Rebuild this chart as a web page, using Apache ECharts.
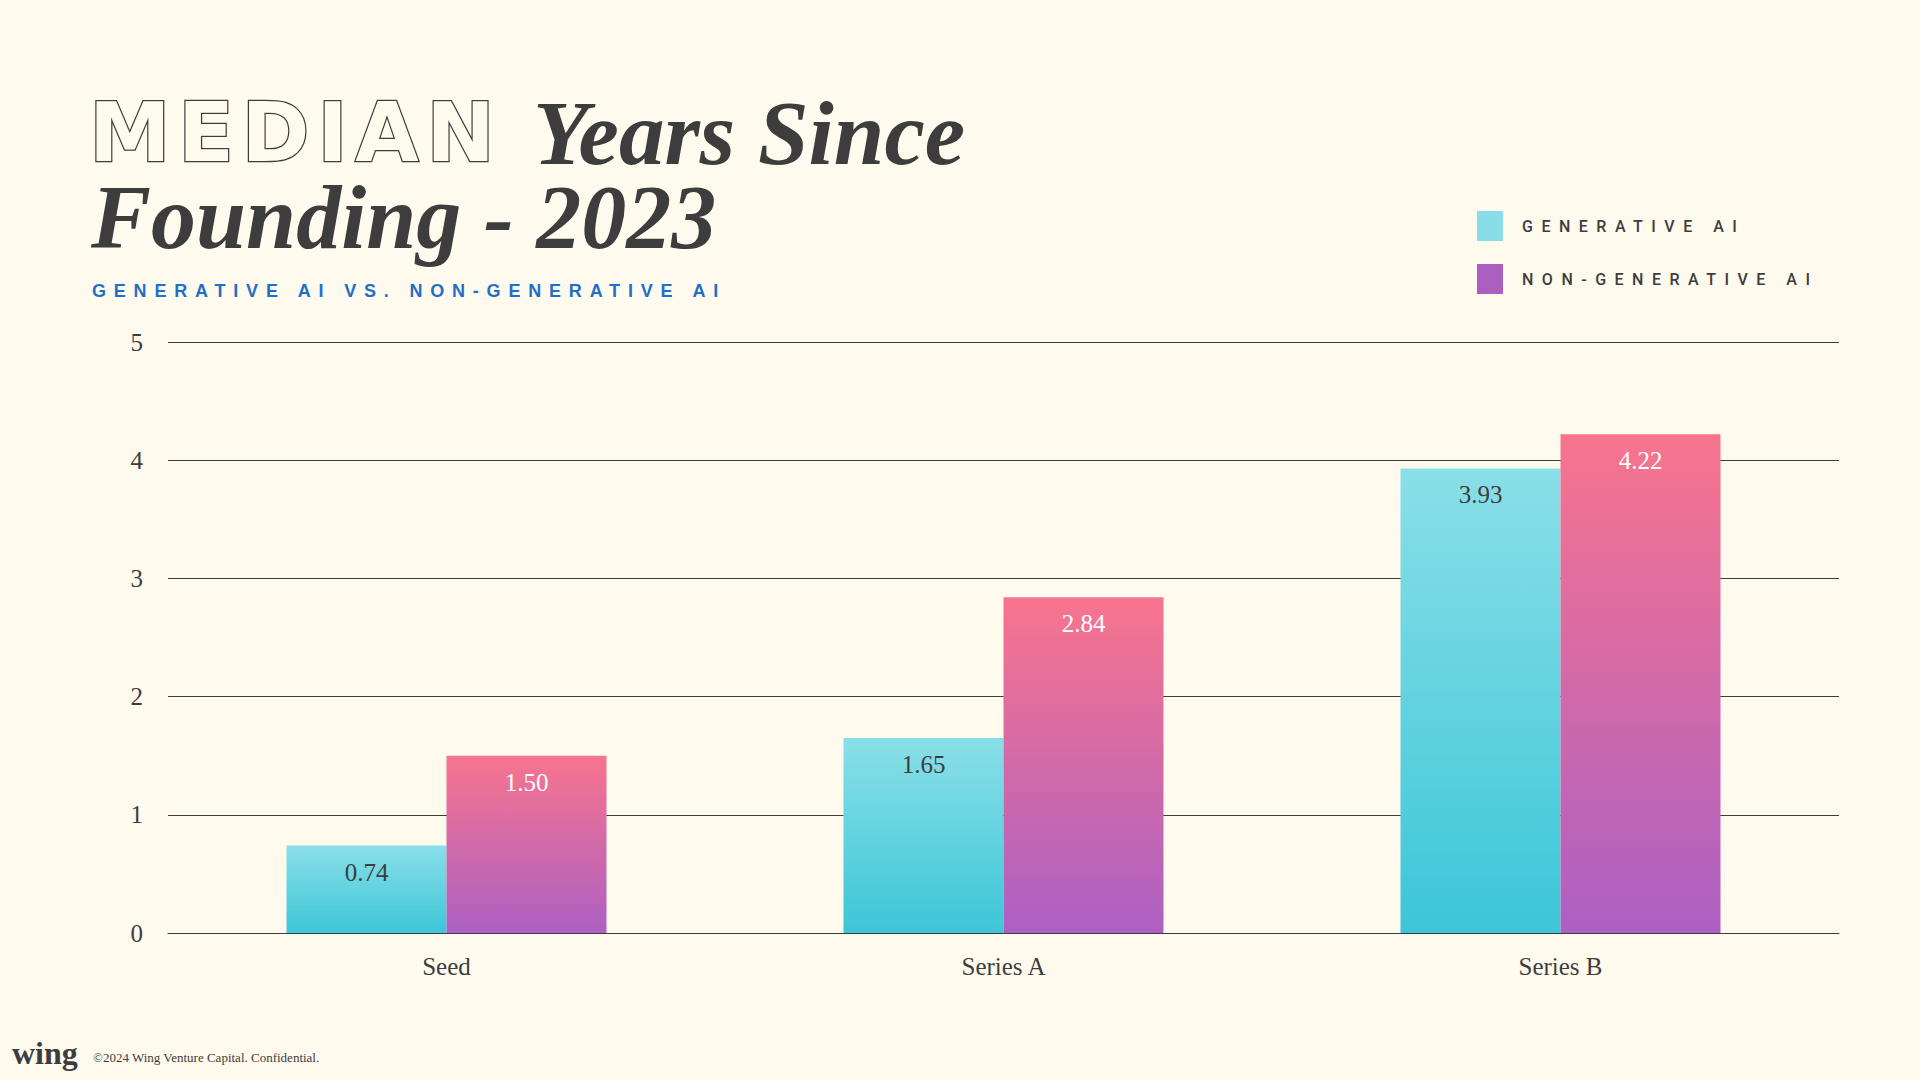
<!DOCTYPE html>
<html>
<head>
<meta charset="utf-8">
<script src="https://cdn.jsdelivr.net/npm/echarts@6/dist/echarts.min.js"></script>
<style>
    html, body { margin: 0; padding: 0; background: #fffaee; }
    #main { width: 1920px; height: 1080px; }
    /* spaced-out caps, zrender has no letterSpacing so we do it on the svg text */
    #main text[style*="DejaVu Sans"] { letter-spacing: 7.5px; }
    #main text[style*="Liberation Sans"] { letter-spacing: 7.8px; }
    #main text[style*="Roboto"] { letter-spacing: 8.5px; }
</style>
</head>
<body>
<div id="main"></div>
<script>
var categories = ['Seed', 'Series A', 'Series B'];
var generativeAI = [0.74, 1.65, 3.93];
var nonGenerativeAI = [1.50, 2.84, 4.22];
var seriesNames = ['GENERATIVE AI', 'NON-GENERATIVE AI'];

var dark = '#3d3d3d';
var bg = '#fffaee';
var serif = 'Liberation Serif';

var myChart = echarts.init(document.getElementById('main'), null, {renderer: 'svg'});

function grad(top, bottom) {
    return new echarts.graphic.LinearGradient(0, 0, 0, 1, [
        {offset: 0, color: top},
        {offset: 1, color: bottom}
    ]);
}

function fmt(p) {
    return p.value.toFixed(2);
}

myChart.setOption({
    backgroundColor: bg,
    animation: false,
    graphic: [
        {type: 'text', x: 89, y: 132, style: {
            text: 'MEDIAN', fontFamily: 'DejaVu Sans', fontSize: 82, fontWeight: 'bold',
            lineHeight: 74, fill: bg, stroke: dark, lineWidth: 2.5, verticalAlign: 'middle'}},
        {type: 'text', x: 533, y: 133, style: {
            text: 'Years Since', fontFamily: serif, fontSize: 91, lineHeight: 74,
            fontWeight: 'bold', fontStyle: 'italic', fill: dark, verticalAlign: 'middle'}},
        {type: 'text', x: 91, y: 217, style: {
            text: 'Founding - 2023', fontFamily: serif, fontSize: 90, lineHeight: 74,
            fontWeight: 'bold', fontStyle: 'italic', fill: dark, verticalAlign: 'middle'}},
        {type: 'text', x: 92, y: 291, style: {
            text: 'GENERATIVE AI VS. NON-GENERATIVE AI', fontFamily: 'Liberation Sans',
            fontSize: 18, fontWeight: 'bold', fill: '#1f6fc8', verticalAlign: 'middle'}},
        {type: 'text', x: 12, y: 1053, style: {
            text: 'wing', fontFamily: serif, fontSize: 32, fontWeight: 'bold',
            fill: dark, verticalAlign: 'middle'}},
        {type: 'text', x: 93, y: 1057, style: {
            text: '©2024 Wing Venture Capital. Confidential.', fontFamily: serif,
            fontSize: 13, fill: dark, verticalAlign: 'middle'}}
    ],
    legend: {
        orient: 'vertical',
        left: 1477,
        top: 211,
        padding: 0,
        itemWidth: 26,
        itemHeight: 30,
        itemGap: 23,
        icon: 'rect',
        data: [
            {name: seriesNames[0], itemStyle: {color: '#88dde8'}},
            {name: seriesNames[1], itemStyle: {color: '#ab5fc0'}}
        ],
        textStyle: {
            fontFamily: 'Roboto', fontSize: 16, fontWeight: 500, color: dark,
            padding: [0, 0, 0, 14]
        }
    },
    grid: {left: 168, right: 81, top: 342, bottom: 147},
    xAxis: {
        type: 'category',
        data: categories,
        axisTick: {show: false},
        axisLine: {lineStyle: {color: dark, width: 1}},
        axisLabel: {fontFamily: serif, fontSize: 25, color: dark, margin: 21}
    },
    yAxis: {
        type: 'value',
        min: 0,
        max: 5,
        interval: 1,
        axisLabel: {fontFamily: serif, fontSize: 25, color: dark, margin: 25},
        splitLine: {lineStyle: {color: dark, width: 1}}
    },
    series: [
        {
            name: seriesNames[0],
            type: 'bar',
            data: generativeAI,
            barWidth: 160,
            barGap: '0%',
            itemStyle: {color: grad('#8adfe8', '#3cc6d8')},
            label: {show: true, position: 'insideTop', distance: 14, formatter: fmt,
                fontFamily: serif, fontSize: 25, color: dark}
        },
        {
            name: seriesNames[1],
            type: 'bar',
            data: nonGenerativeAI,
            barWidth: 160,
            itemStyle: {color: grad('#f8748e', '#ac60c3')},
            label: {show: true, position: 'insideTop', distance: 14, formatter: fmt,
                fontFamily: serif, fontSize: 25, color: '#ffffff'}
        }
    ]
});
</script>
</body>
</html>
